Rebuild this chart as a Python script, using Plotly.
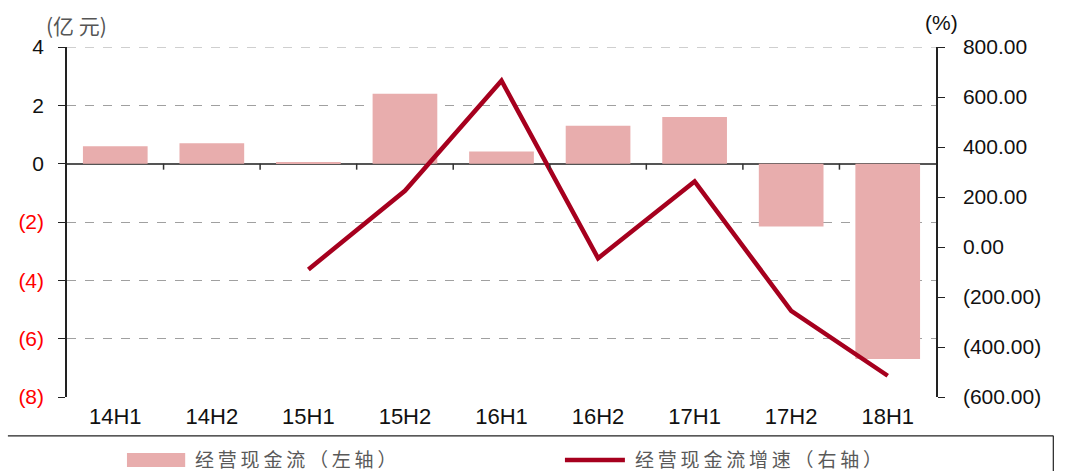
import plotly.graph_objects as go

categories = ["14H1", "14H2", "15H1", "15H2", "16H1", "16H2", "17H1", "17H2", "18H1"]
cash_flow = [0.6, 0.7, 0.03, 2.4, 0.42, 1.3, 1.6, -2.15, -6.7]
growth_cats = ["15H1", "15H2", "16H1", "16H2", "17H1", "17H2", "18H1"]
growth = [-90, 225, 665, -45, 262, -255, -515]
left_ticks = [4, 2, 0, -2, -4, -6, -8]
left_labels = ["4", "2", "0", "<span style='color:#FF0000'>(2)</span>",
               "<span style='color:#FF0000'>(4)</span>", "<span style='color:#FF0000'>(6)</span>",
               "<span style='color:#FF0000'>(8)</span>"]
right_ticks = [800, 600, 400, 200, 0, -200, -400, -600]
right_labels = ["800.00", "600.00", "400.00", "200.00", "0.00", "(200.00)", "(400.00)", "(600.00)"]

BAR = "#E8ADAD"
LINE = "#A6001E"
FONT = "Liberation Sans, Arial, sans-serif"
CJK = "Noto Sans CJK SC"
TS = "\u2009"

fig = go.Figure()
fig.add_trace(go.Bar(x=categories, y=cash_flow, marker=dict(color=BAR, line=dict(width=0)),
                     width=0.67, yaxis="y", showlegend=False))
fig.add_trace(go.Scatter(x=growth_cats, y=growth, mode="lines", line=dict(color=LINE, width=4.5),
                         yaxis="y2", showlegend=False))

shapes = []
# top dashed gridline (at the axis maximum)
shapes.append(dict(type="line", xref="paper", yref="y", x0=0, x1=1, y0=left_ticks[0], y1=left_ticks[0],
                   line=dict(color="#A0A0A0", width=1, dash="dash"), layer="below"))
for i in range(len(categories) - 1):
    shapes.append(dict(type="line", xref="x", yref="y", x0=i + 0.5, x1=i + 0.5,
                       ysizemode="pixel", yanchor=0, y0=0, y1=-6,
                       line=dict(color="#333333", width=1.5)))
shapes.append(dict(type="line", xref="paper", yref="paper", x0=-0.068, x1=1.135, y0=-0.111, y1=-0.111,
                   line=dict(color="#222222", width=1.2)))
shapes.append(dict(type="line", xref="paper", yref="paper", x0=1.135, x1=1.135, y0=-0.111, y1=-0.3,
                   line=dict(color="#222222", width=1.2)))
shapes.append(dict(type="rect", xref="paper", yref="paper", x0=0.069, x1=0.136, y0=-0.2, y1=-0.16,
                   fillcolor=BAR, line=dict(width=0)))
shapes.append(dict(type="line", xref="paper", yref="paper", x0=0.573, x1=0.642, y0=-0.18, y1=-0.18,
                   line=dict(color=LINE, width=4.5)))

annotations = [
    dict(text=TS.join("经营现金流（左轴）"), xref="paper", yref="paper", x=0.145, y=-0.176, xanchor="left",
         yanchor="middle", showarrow=False, font=dict(family=CJK, size=19, color="#595959")),
    dict(text=TS.join("经营现金流增速（右轴）"), xref="paper", yref="paper", x=0.651, y=-0.176, xanchor="left",
         yanchor="middle", showarrow=False, font=dict(family=CJK, size=19, color="#595959")),
    dict(text="(亿 元)", xref="paper", yref="paper", x=0.0104, y=1.063, xanchor="center",
         yanchor="middle", showarrow=False, font=dict(family=CJK, size=21, color="#555555")),
    dict(text="(%)", xref="paper", yref="paper", x=1.0058, y=1.071, xanchor="center",
         yanchor="middle", showarrow=False, font=dict(family=FONT, size=21, color="#111111")),
]

fig.update_layout(
    width=1069, height=471,
    margin=dict(l=67, r=133, t=47, b=74),
    paper_bgcolor="white", plot_bgcolor="white",
    font=dict(family=FONT, size=20, color="#111111"),
    xaxis=dict(type="category", showline=False, ticks="", showgrid=False,
               tickfont=dict(family=FONT, size=22, color="#111111"), ticklabelstandoff=4),
    yaxis=dict(range=[-8, 4], tickvals=left_ticks, ticktext=left_labels,
               showline=True, linecolor="#222222", linewidth=1.5, ticks="outside", ticklen=7,
               tickcolor="#222222", showgrid=True, gridcolor="#A0A0A0", griddash="dash", gridwidth=1,
               zeroline=True, zerolinecolor="#555555", zerolinewidth=1.5,
               tickfont=dict(family=FONT, size=21, color="#111111"), ticklabelstandoff=10),
    yaxis2=dict(range=[-600, 800], tickvals=right_ticks, ticktext=right_labels, overlaying="y",
                side="right", showline=True, linecolor="#222222", linewidth=1.5, ticks="outside",
                ticklen=7, tickcolor="#222222", showgrid=False, zeroline=False,
                tickfont=dict(family=FONT, size=21, color="#111111"), ticklabelstandoff=14),
    shapes=shapes,
    annotations=annotations,
)

fig.write_html("out.html", config={"displayModeBar": False},
               post_script="document.body.style.margin='0';")
